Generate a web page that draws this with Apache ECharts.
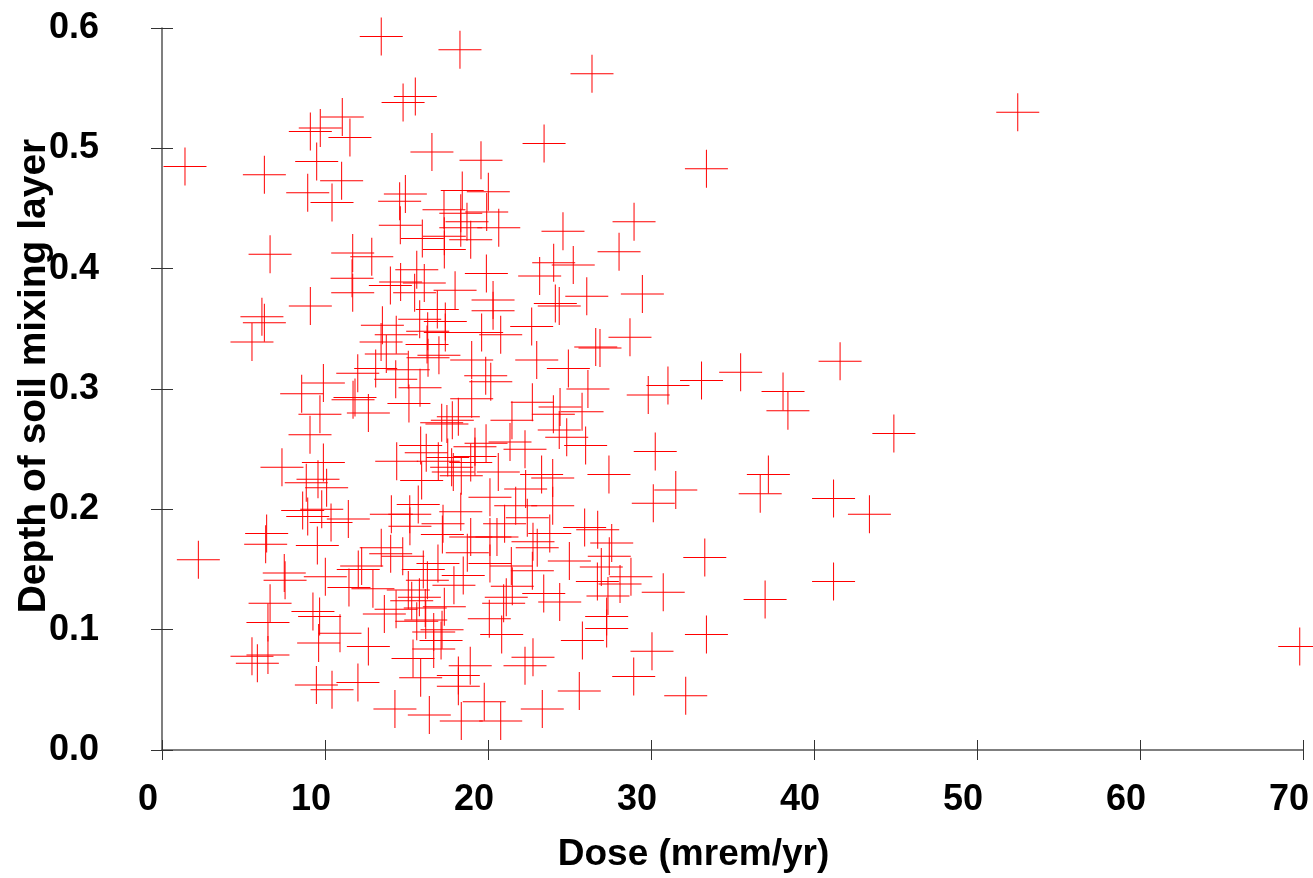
<!DOCTYPE html>
<html>
<head>
<meta charset="utf-8">
<script src="https://cdn.jsdelivr.net/npm/echarts@6/dist/echarts.min.js"></script>
<style>
html,body{margin:0;padding:0;background:#ffffff;}
#chart{width:1313px;height:878px;}
</style>
</head>
<body>
<div id="chart"></div>
<script>
// Dose (mrem/yr) of each sample
const doseValues = [
13.45,18.28,15.54,14.79,11.06,9.71,9.10,11.53,16.56,19.57,1.41,6.28,9.49,11.02,8.94,10.43,14.93,14.58,18.42,20.02,6.63,11.70,12.87,17.30,17.32,18.33,18.33,19.92,18.71,18.94,14.62,17.32,15.97,15.63,
11.66,11.70,24.60,24.03,25.23,23.17,26.06,24.13,24.37,19.90,20.31,20.31,22.68,22.99,20.78,19.61,19.00,24.93,17.98,16.09,14.64,14.01,15.50,16.89,17.38,17.38,15.81,13.52,14.37,13.44,16.30,16.26,13.76,16.32,16.99,13.11,
9.10,6.13,6.28,5.52,14.34,15.11,15.83,12.01,19.86,20.17,9.90,8.57,11.84,11.72,12.66,15.15,19.00,18.18,17.16,17.81,17.48,9.69,9.08,19.88,15.87,16.21,14.40,16.95,17.77,18.94,7.36,9.90,9.57,8.85,10.10,17.87,15.93,18.36,20.12,
2.23,6.42,6.36,7.50,7.55,6.63,6.50,6.50,5.52,5.85,9.26,9.67,10.92,9.61,12.66,10.02,11.47,9.53,8.63,8.94,9.80,10.37,11.43,14.07,15.72,15.21,17.24,17.20,13.45,14.03,14.77,20.12,18.94,18.73,20.12,12.25,12.04,16.93,16.03,16.28,18.48,17.91,12.94,15.11,15.79,15.32,17.32,16.15,13.64,14.36,15.63,16.18,17.18,16.67,17.12,16.67,15.40,15.87,18.91,18.18,18.18,9.47,10.43,12.02,14.29,16.40,19.77,18.36,20.08,
30.14,30.75,30.06,28.94,32.13,25.79,25.60,23.33,22.76,22.27,20.78,27.28,27.28,24.40,23.42,28.77,28.10,27.36,26.71,26.95,27.44,27.59,25.93,26.73,24.99,23.02,22.72,23.79,22.41,21.70,23.97,21.02,20.55,21.43,21.12,21.49,20.96,20.84,
26.13,25.77,24.42,24.01,24.37,24.83,25.99,22.72,21.47,22.27,20.63,23.29,23.97,22.31,27.42,18.33,15.20,22.76,19.20,19.20,17.53,21.35,
29.47,28.71,26.61,26.87,31.04,29.83,30.26,31.52,
26.38,23.44,28.96,28.04,20.66,
52.5,33.4,41.6,35.5,33.1,38.1,38.4,44.9,37.2,36.7,41.2,43.4,33.3,37.0,41.2,33.4,69.8
];
// Depth of soil mixing layer of each sample
const depthValues = [
0.593,0.582,0.543,0.538,0.526,0.517,0.514,0.509,0.497,0.490,0.485,0.478,0.489,0.473,0.463,0.455,0.462,0.456,0.465,0.464,0.412,0.413,0.410,0.449,0.416,0.446,0.434,0.447,0.439,0.424,0.436,0.427,0.425,0.399,
0.392,0.380,0.431,0.405,0.403,0.394,0.377,0.371,0.369,0.396,0.374,0.365,0.352,0.324,0.345,0.347,0.324,0.317,0.382,0.388,0.389,0.386,0.380,0.366,0.356,0.347,0.358,0.353,0.345,0.339,0.348,0.337,0.329,0.326,0.328,0.317,
0.369,0.360,0.355,0.339,0.308,0.316,0.301,0.313,0.311,0.306,0.305,0.296,0.293,0.291,0.280,0.288,0.292,0.277,0.272,0.274,0.271,0.279,0.262,0.255,0.253,0.247,0.240,0.240,0.235,0.239,0.235,0.239,0.225,0.222,0.218,0.231,0.224,0.228,0.210,
0.158,0.180,0.171,0.147,0.141,0.122,0.106,0.079,0.078,0.072,0.115,0.111,0.097,0.089,0.086,0.144,0.135,0.170,0.199,0.194,0.200,0.189,0.192,0.196,0.204,0.186,0.188,0.179,0.168,0.163,0.161,0.177,0.177,0.164,0.155,0.153,0.150,0.155,0.150,0.141,0.145,0.137,0.134,0.133,0.127,0.124,0.119,0.118,0.113,0.117,0.107,0.108,0.100,0.098,0.091,0.084,0.076,0.060,0.070,0.062,0.053,0.054,0.050,0.056,0.034,0.029,0.040,0.024,0.109,
0.205,0.131,0.082,0.061,0.045,0.091,0.049,0.034,0.077,0.070,0.024,0.111,0.101,0.123,0.130,0.144,0.138,0.128,0.140,0.152,0.161,0.172,0.185,0.183,0.157,0.168,0.149,0.180,0.193,0.203,0.203,0.188,0.177,0.153,0.127,0.136,0.122,0.096,
0.300,0.281,0.285,0.279,0.266,0.260,0.253,0.289,0.274,0.250,0.231,0.229,0.226,0.217,0.229,0.198,0.196,0.173,0.252,0.244,0.243,0.256,
0.379,0.343,0.335,0.334,0.303,0.295,0.248,0.216,
0.562,0.504,0.439,0.414,0.434,
0.530,0.483,0.323,0.314,0.307,0.298,0.282,0.263,0.229,0.213,0.209,0.196,0.160,0.125,0.140,0.096,0.086
];
const xAxisTitle = 'Dose (mrem/yr)';
const yAxisTitle = 'Depth of soil mixing layer';

const points = doseValues.map((d, i) => [d, depthValues[i]]);
const FONT = '"Liberation Sans", Arial, sans-serif';
const plusPath = 'path://M21,0H22V18.5H43V19.5H22V38H21V19.5H0V18.5H21Z';

const chart = echarts.init(document.getElementById('chart'), null, {renderer: 'canvas'});
chart.setOption({
  animation: false,
  backgroundColor: '#ffffff',
  grid: {left: 162, right: 10, top: 28, bottom: 128, containLabel: false, outerBoundsMode: 'none'},
  xAxis: [
    {
      type: 'value', min: 0, max: 70, interval: 10, position: 'bottom',
      axisLine: {show: true, onZero: false, lineStyle: {color: '#555', width: 1.5}},
      axisTick: {show: true, inside: false, length: 10, lineStyle: {color: '#333', width: 1}},
      axisLabel: {fontSize: 36, fontWeight: 'bold', color: '#000', fontFamily: FONT, margin: 32, padding: [0, 28, 0, 0]},
      splitLine: {show: false},
      name: xAxisTitle, nameLocation: 'middle', nameGap: 86, nameMoveOverlap: false,
      nameTextStyle: {fontSize: 37, fontWeight: 'bold', color: '#000', fontFamily: FONT, padding: [0, 78, 0, 0]}
    },
    {
      type: 'value', min: 0, max: 70, interval: 10, position: 'bottom',
      axisLine: {show: false, onZero: false},
      axisTick: {show: true, inside: true, length: 10, lineStyle: {color: '#333', width: 1}},
      axisLabel: {show: false}, splitLine: {show: false}
    }
  ],
  yAxis: [
    {
      type: 'value', min: 0, max: 0.6, interval: 0.1, position: 'left',
      axisLine: {show: true, onZero: false, lineStyle: {color: '#555', width: 1.5}},
      axisTick: {show: true, inside: false, length: 11, lineStyle: {color: '#333', width: 1}},
      axisLabel: {fontSize: 36, fontWeight: 'bold', color: '#000', fontFamily: FONT, margin: 63,
        formatter: v => v.toFixed(1)},
      splitLine: {show: false},
      name: yAxisTitle, nameLocation: 'middle', nameRotate: 90, nameGap: 108, nameMoveOverlap: false,
      nameTextStyle: {fontSize: 39, fontWeight: 'bold', color: '#000', fontFamily: FONT, padding: [0, 0, 0, 26]}
    },
    {
      type: 'value', min: 0, max: 0.6, interval: 0.1, position: 'left',
      axisLine: {show: false, onZero: false},
      axisTick: {show: true, inside: true, length: 11, lineStyle: {color: '#333', width: 1}},
      axisLabel: {show: false}, splitLine: {show: false}
    }
  ],
  series: [{
    type: 'scatter',
    xAxisIndex: 0, yAxisIndex: 0,
    data: points,
    symbol: plusPath,
    symbolSize: [43, 38],
    symbolKeepAspect: false,
    itemStyle: {color: '#ff0000', opacity: 1},
    emphasis: {disabled: true},
    silent: true
  }]
});
</script>
</body>
</html>
